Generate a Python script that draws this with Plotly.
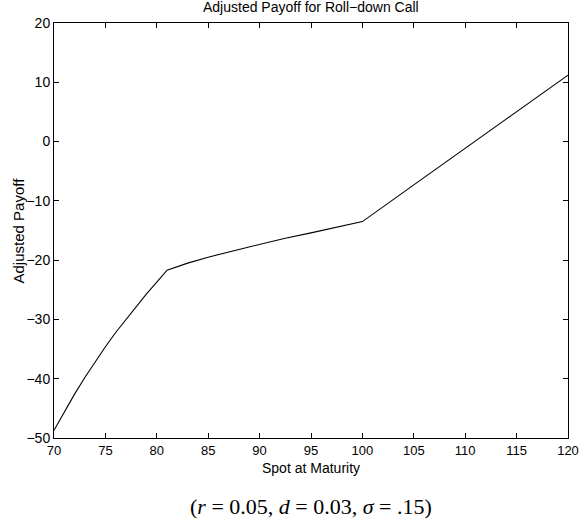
import plotly.graph_objects as go

# Data
spot = [70, 71, 72, 73, 74, 75, 76, 77, 78, 79, 80, 81,
        83, 85, 87.5, 90, 92.5, 95, 97.5, 100, 105, 110, 115, 120]
payoff = [-48.7, -45.6, -42.6, -39.8, -37.1, -34.6, -32.2, -30.0, -27.8, -25.7, -23.7, -21.7,
          -20.5, -19.5, -18.4, -17.3, -16.3, -15.4, -14.4, -13.5, -7.3, -1.1, 5.0, 11.2]

x_ticks = [70, 75, 80, 85, 90, 95, 100, 105, 110, 115, 120]
y_ticks = [-50, -40, -30, -20, -10, 0, 10, 20]

title_text = "Adjusted Payoff for Roll\u2212down Call"
x_title = "Spot at Maturity"
y_title = "Adjusted Payoff"
note_text = "(<i>r</i> = 0.05, <i>d</i> = 0.03, <i>\u03c3</i> = .15)"

W, H = 579, 519
L, R, T, B = 54, 11, 23, 81
SANS = "Liberation Sans, Arial, sans-serif"

fig = go.Figure()
fig.add_trace(go.Scatter(x=spot, y=payoff, mode="lines",
                         line=dict(color="black", width=1.1),
                         showlegend=False, hoverinfo="skip"))

axis_common = dict(showgrid=False, zeroline=False, showline=True, linecolor="black",
                   linewidth=1, mirror="ticks", ticks="inside", ticklen=5,
                   tickwidth=1, tickcolor="black", ticklabeloverflow="allow",
                   automargin=False)

fig.update_xaxes(range=[70, 120], tickvals=x_ticks,
                 tickfont=dict(family=SANS, size=13, color="black"), **axis_common)
fig.update_yaxes(range=[-50, 20], tickvals=y_ticks,
                 tickfont=dict(family=SANS, size=14, color="black"), **axis_common)

fig.update_layout(
    width=W, height=H,
    margin=dict(l=L, r=R, t=T, b=B, pad=0, autoexpand=False),
    paper_bgcolor="white", plot_bgcolor="white",
    font=dict(family=SANS, color="black"),
    annotations=[
        dict(text=title_text, xref="paper", yref="paper", x=0.5, y=1, yshift=6,
             xanchor="center", yanchor="bottom", showarrow=False,
             font=dict(size=14, family=SANS)),
        dict(text=x_title, xref="paper", yref="paper", x=0.5, y=0, yshift=-20,
             xanchor="center", yanchor="top", showarrow=False,
             font=dict(size=14, family=SANS)),
        dict(text=y_title, xref="paper", yref="paper", x=0, xshift=-36, y=0.5,
             xanchor="center", yanchor="middle", textangle=-90, showarrow=False,
             font=dict(size=15, family=SANS)),
        dict(text=note_text, xref="paper", yref="paper", x=0.5, y=0, yshift=-54,
             xanchor="center", yanchor="top", showarrow=False,
             font=dict(size=22, family="Liberation Serif, Times New Roman, serif")),
    ],
)

fig.write_html("out.html")
